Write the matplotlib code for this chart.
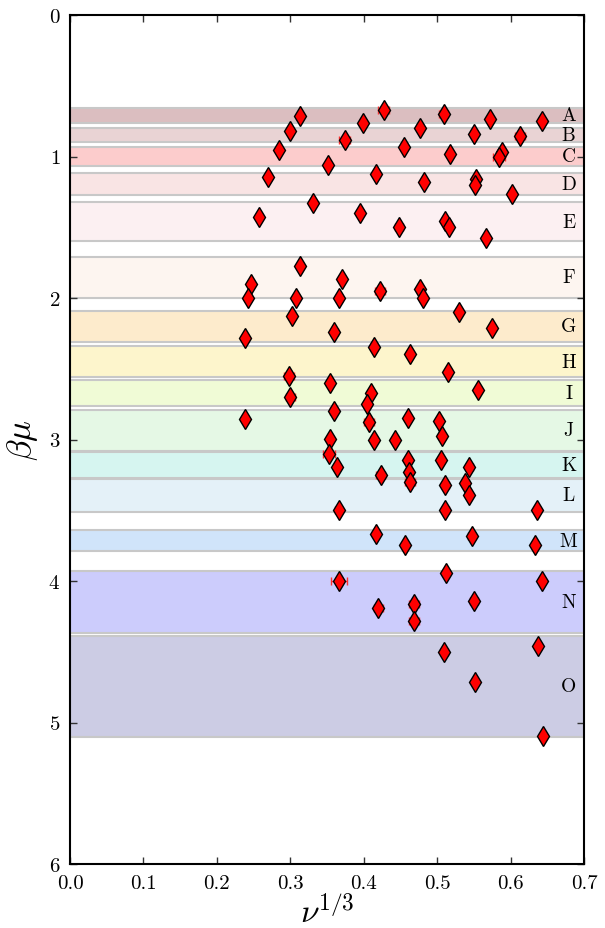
import numpy as np
import matplotlib
matplotlib.use("Agg")
import matplotlib.pyplot as plt

plt.rcParams["font.family"] = "serif"
plt.rcParams["font.serif"] = ["cmr10", "DejaVu Serif"]
plt.rcParams["mathtext.fontset"] = "cm"
plt.rcParams["axes.formatter.use_mathtext"] = True

# band definitions (beta*mu ranges)
band_labels = ["A", "B", "C", "D", "E", "F", "G", "H", "I", "J", "K", "L", "M", "N", "O"]
band_lo = [0.66, 0.80, 0.93, 1.12, 1.32, 1.71, 2.09, 2.34, 2.58, 2.79, 3.09, 3.28, 3.64, 3.93, 4.39]
band_hi = [0.76, 0.90, 1.07, 1.27, 1.60, 2.00, 2.31, 2.56, 2.76, 3.08, 3.27, 3.51, 3.79, 4.37, 5.10]
band_colors = ["#dbbec0", "#e9d3d4", "#fccccc", "#f9e4e4", "#fcf0f2", "#fdf5f0", "#fdebcc",
               "#fdf5cc", "#f0fbd6", "#e5f8e5", "#d6f5f0", "#e4f1f8", "#d0e4fa", "#ccccfc", "#ccccE4"]

# measured points
nu13 = [0.313, 0.427, 0.509, 0.572, 0.643, 0.399, 0.300, 0.477, 0.550, 0.613,
        0.374, 0.284, 0.455, 0.517, 0.588, 0.584, 0.352, 0.270, 0.417, 0.482,
        0.553, 0.551, 0.602, 0.331, 0.257, 0.395, 0.448, 0.511, 0.516, 0.566,
        0.313, 0.246, 0.371, 0.422, 0.477, 0.242, 0.308, 0.367, 0.481, 0.530,
        0.303, 0.575, 0.360, 0.238, 0.414, 0.463, 0.515, 0.298, 0.354, 0.556,
        0.410, 0.300, 0.404, 0.359, 0.238, 0.407, 0.460, 0.503, 0.507, 0.354,
        0.414, 0.442, 0.353, 0.460, 0.505, 0.363, 0.544, 0.423, 0.462, 0.463,
        0.511, 0.538, 0.544, 0.366, 0.511, 0.636, 0.417, 0.547, 0.456, 0.633,
        0.512, 0.366, 0.643, 0.550, 0.468, 0.420, 0.468, 0.637, 0.510, 0.552,
        0.644]
beta_mu = [0.716, 0.669, 0.700, 0.735, 0.749, 0.761, 0.820, 0.801, 0.839, 0.857,
           0.883, 0.954, 0.933, 0.980, 0.966, 1.001, 1.062, 1.147, 1.121, 1.178,
           1.159, 1.201, 1.263, 1.329, 1.430, 1.402, 1.501, 1.454, 1.501, 1.574,
           1.774, 1.903, 1.866, 1.951, 1.936, 2.000, 2.000, 2.000, 2.000, 2.099,
           2.125, 2.210, 2.238, 2.285, 2.348, 2.398, 2.525, 2.549, 2.600, 2.652,
           2.671, 2.697, 2.749, 2.799, 2.857, 2.874, 2.848, 2.867, 2.973, 2.996,
           3.001, 3.001, 3.105, 3.147, 3.147, 3.197, 3.197, 3.249, 3.227, 3.298,
           3.322, 3.310, 3.394, 3.496, 3.496, 3.496, 3.666, 3.682, 3.748, 3.748,
           3.943, 3.998, 3.998, 4.139, 4.160, 4.191, 4.280, 4.457, 4.504, 4.716,
           5.093]
nu13_err = [0.0, 0.008, 0.006, 0.0, 0.0, 0.0, 0.0, 0.0, 0.0, 0.007,
            0.008, 0.0, 0.0, 0.0, 0.0, 0.008, 0.0, 0.0, 0.0, 0.0,
            0.0, 0.0, 0.0, 0.0, 0.0, 0.0, 0.005, 0.0, 0.0, 0.0,
            0.0, 0.0, 0.0, 0.007, 0.0, 0.0, 0.0, 0.004, 0.0, 0.0,
            0.0, 0.0, 0.005, 0.0, 0.0, 0.0, 0.0, 0.007, 0.0, 0.0,
            0.0, 0.006, 0.0, 0.005, 0.0, 0.007, 0.0, 0.0, 0.0, 0.0,
            0.0, 0.0, 0.008, 0.004, 0.0, 0.0, 0.005, 0.006, 0.0, 0.007,
            0.005, 0.0, 0.0, 0.005, 0.005, 0.0, 0.0, 0.005, 0.0, 0.004,
            0.0, 0.011, 0.0, 0.005, 0.007, 0.006, 0.007, 0.0, 0.005, 0.0,
            0.0]

fig = plt.figure(figsize=(6.05, 9.29), dpi=100)
ax = fig.add_axes([70 / 605, 1 - 865 / 929, 514 / 605, 849 / 929])

for lab, lo, hi, col in zip(band_labels, band_lo, band_hi, band_colors):
    ax.axhspan(lo, hi, facecolor=col, edgecolor="#c8c8c8", linewidth=1.5, zorder=1)
    ax.text(0.679, (lo + hi) / 2.0, lab, ha="center", va="center", fontsize=14, zorder=5)

ax.errorbar(nu13, beta_mu, xerr=nu13_err, fmt="d", color="red", ecolor="#ff3030",
            markeredgecolor="black", markeredgewidth=1.0, markersize=10.5,
            elinewidth=1.0, capsize=3, capthick=1.0, zorder=4)

ax.set_xlim(0.0, 0.7)
ax.set_ylim(6, 0)
ax.set_xticks(np.arange(0, 0.71, 0.1))
ax.set_yticks(np.arange(0, 7, 1))
ax.xaxis.set_major_formatter(matplotlib.ticker.FormatStrFormatter("%.1f"))
ax.tick_params(axis="both", which="major", direction="in", top=True, right=True,
               length=5, width=1, labelsize=15, pad=7, color="#333333")
for sp in ax.spines.values():
    sp.set_linewidth(1.5)

ax.set_xlabel(r"$\nu^{1/3}$", fontsize=24, labelpad=1)
ax.set_ylabel(r"$\beta\mu$", fontsize=25, labelpad=6)

fig.savefig("out.png", dpi=100)
plt.close(fig)
